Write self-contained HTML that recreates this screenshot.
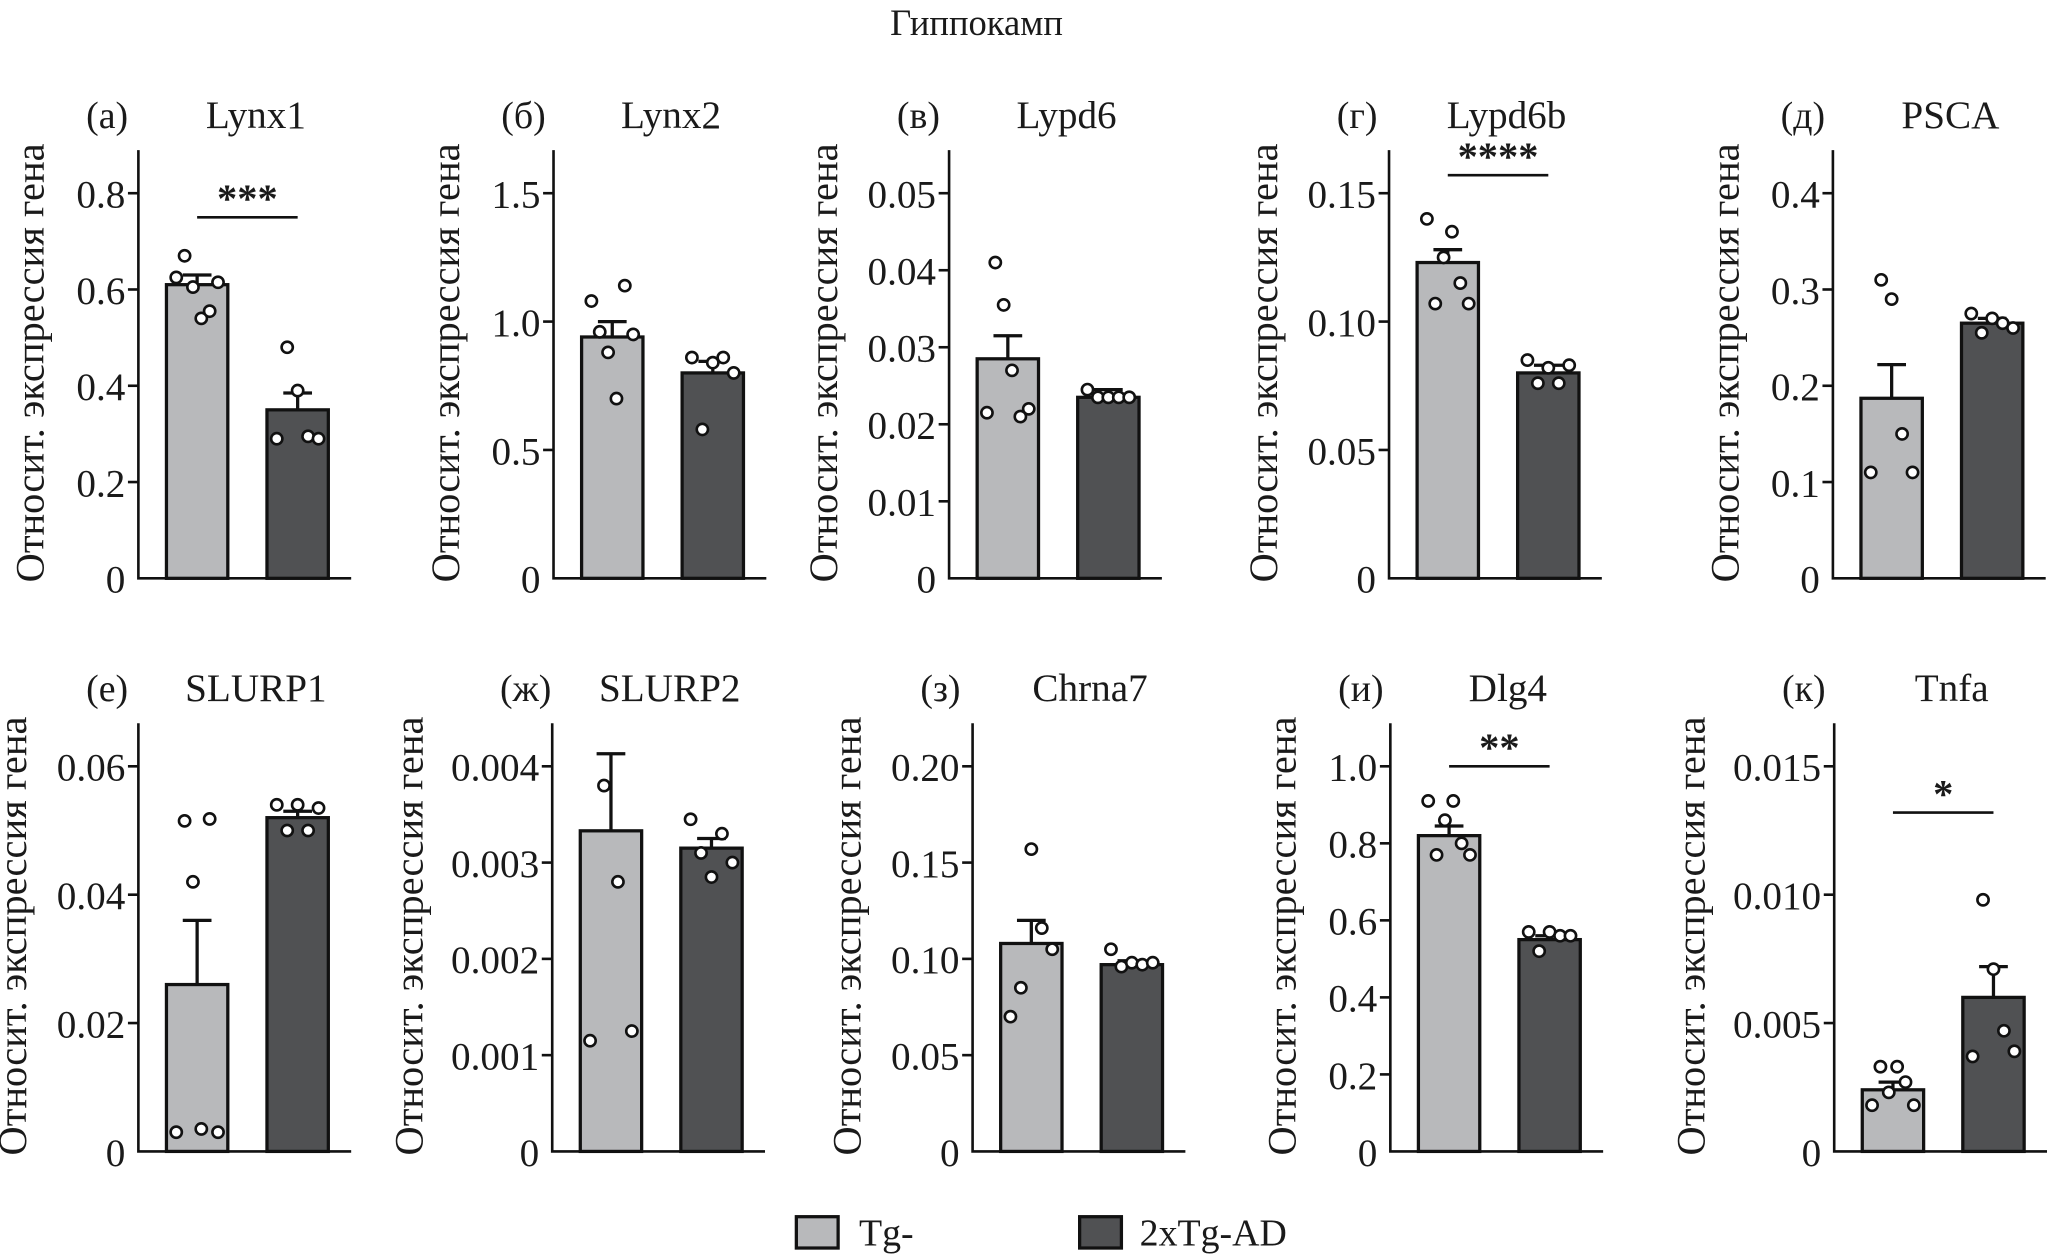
<!DOCTYPE html>
<html><head><meta charset="utf-8"><style>
html,body{margin:0;padding:0;background:#fff}
svg{display:block}
text{font-family:"Liberation Serif",serif;fill:#1a1a1a}
</style></head><body>
<svg id="fig" width="2047" height="1259" viewBox="0 0 1568 964.4" preserveAspectRatio="none" xmlns="http://www.w3.org/2000/svg">
<text x="748" y="27" font-size="28" text-anchor="middle">Гиппокамп</text>
<g>
<rect x="610" y="932" width="32" height="24" fill="#b8b9bb" stroke="#111" stroke-width="2.5"/>
<text x="658" y="954" font-size="29">Tg-</text>
<rect x="827" y="932" width="32" height="24" fill="#505153" stroke="#111" stroke-width="2.5"/>
<text x="873" y="954" font-size="29">2xTg-AD</text>
</g>
</svg>
<script>
const genes = ["Lynx1","Lynx2","Lypd6","Lypd6b","PSCA","SLURP1","SLURP2","Chrna7","Dlg4","Tnfa"];
const letters = ["(а)","(б)","(в)","(г)","(д)","(е)","(ж)","(з)","(и)","(к)"];
const tickMax = [0.8,1.5,0.05,0.15,0.4,0.06,0.004,0.20,1.0,0.015];
const tickLabels = [
 ["0","0.2","0.4","0.6","0.8"],["0","0.5","1.0","1.5"],["0","0.01","0.02","0.03","0.04","0.05"],
 ["0","0.05","0.10","0.15"],["0","0.1","0.2","0.3","0.4"],["0","0.02","0.04","0.06"],
 ["0","0.001","0.002","0.003","0.004"],["0","0.05","0.10","0.15","0.20"],
 ["0","0.2","0.4","0.6","0.8","1.0"],["0","0.005","0.010","0.015"]];
const meanTg = [0.61,0.94,0.0285,0.123,0.187,0.026,0.00333,0.108,0.82,0.0024];
const errTg = [0.63,1.0,0.0315,0.128,0.222,0.036,0.00413,0.12,0.845,0.0027];
const meanAD = [0.35,0.80,0.0235,0.080,0.265,0.052,0.00315,0.097,0.55,0.006];
const errAD = [0.385,0.845,0.0245,0.083,0.27,0.053,0.00325,0.099,0.56,0.0072];
const ptsTg = [
 [0.625,0.67,0.605,0.54,0.555,0.615],[1.08,0.96,0.88,0.70,1.14,0.95],[0.0215,0.041,0.0355,0.027,0.021,0.022],
 [0.140,0.107,0.125,0.135,0.115,0.107],[0.11,0.31,0.29,0.15,0.11],[0.003,0.0515,0.042,0.0035,0.0518,0.003],
 [0.00115,0.0038,0.0028,0.00125],[0.070,0.085,0.157,0.116,0.105],[0.91,0.77,0.86,0.91,0.80,0.77],
 [0.0018,0.0033,0.0023,0.0033,0.0027,0.0018]];
const ptsAD = [
 [0.29,0.48,0.39,0.295,0.29],[0.86,0.58,0.84,0.86,0.80],[0.0245,0.0235,0.0235,0.0235,0.0235],
 [0.085,0.076,0.082,0.076,0.083],[0.275,0.255,0.27,0.265,0.26],[0.054,0.050,0.054,0.050,0.0535],
 [0.00345,0.0031,0.00285,0.0033,0.0030],[0.105,0.096,0.098,0.097,0.098],[0.57,0.52,0.57,0.56,0.56],
 [0.0037,0.0098,0.0071,0.0047,0.0039]];
const sigText = ["***","","","****","","","","","**","*"];
const sigY = [0.75,0,0,0.157,0,0,0,0,1.0,0.0132];

const axisXs = [106,424,727,1064,1404,106,423,745,1065,1405];
const NS = "http://www.w3.org/2000/svg";
const svg = document.getElementById("fig");
function mk(tag, attrs, parent){const e=document.createElementNS(NS,tag);for(const k in attrs)e.setAttribute(k,attrs[k]);(parent||svg).appendChild(e);return e;}

genes.forEach((g,i)=>{
  const row = i<5?0:1;
  const base = row===0?443:882, axTop = base-328;
  const ax = axisXs[i];
  const y = v => base - v/tickMax[i]*295;
  const maxLen = Math.max(...tickLabels[i].map(s=>s.length));
  const grp = mk("g",{});
  
  
  const lt = mk("text",{x:ax-40,y:axTop-17,"font-size":29},grp); lt.textContent=letters[i];
  
  
  const tt = mk("text",{x:ax+90,y:axTop-17,"font-size":30,"text-anchor":"middle"},grp); tt.textContent=g;
  
  
  const yl = mk("text",{transform:`translate(${ax-(32+13.5*maxLen)},${base-165}) rotate(-90)`,"font-size":31,"text-anchor":"middle",x:0,y:0},grp);
  yl.textContent="Относит. экспрессия гена";
  
  
  const c1 = ax+45, c2 = ax+122, bw=47;
  [[c1,meanTg[i],errTg[i],"#b8b9bb",ptsTg[i],"tg-minus"],[c2,meanAD[i],errAD[i],"#505153",ptsAD[i],"2xtg-ad"]].forEach(([c,m,e,f,pts,nm])=>{
    const eb = mk("path",{d:`M${c},${y(m)}V${y(e)}M${c-11},${y(e)}H${c+11}`,stroke:"#111","stroke-width":2.5,fill:"none"},grp);
    
    
    const r = mk("rect",{x:c-bw/2,y:y(m),width:bw,height:base-y(m),fill:f,stroke:"#111","stroke-width":2.5},grp);
    
    
    pts.forEach((p,k)=>{
      const n=pts.length, px = c-16+ (n>1? k*32/(n-1):16);
      const pt = mk("circle",{cx:px,cy:y(p),r:4.3,fill:"#fff",stroke:"#111","stroke-width":2},grp);
      
      
    });
  });
  const axl = mk("path",{d:`M${ax},${axTop}V${base}H${ax+163}`,stroke:"#111","stroke-width":2,fill:"none"},grp);
  
  
  tickLabels[i].forEach((lab,k)=>{
    const n=tickLabels[i].length, ty = base - k*295/(n-1);
    if(k>0) mk("path",{d:`M${ax-8},${ty}H${ax}`,stroke:"#111","stroke-width":2},grp);
    const t = mk("text",{x:ax-10,y:ty+11,"font-size":30,"text-anchor":"end"},grp); t.textContent=lab;
    
    
  });
  if(sigText[i]){
    const sy=y(sigY[i]);
    const sl = mk("path",{d:`M${c1},${sy}H${c2}`,stroke:"#111","stroke-width":2},grp);
    
    
    const st = mk("text",{x:(c1+c2)/2,y:sy-4,"font-size":31,"text-anchor":"middle","font-weight":"bold"},grp); st.textContent=sigText[i];
    
    
  }
});
</script>
</body></html>
